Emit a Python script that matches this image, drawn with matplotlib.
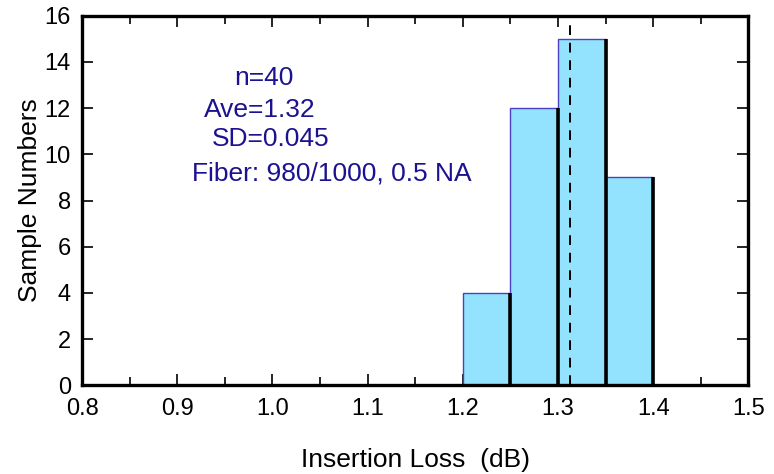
import numpy as np
import matplotlib.pyplot as plt
from matplotlib.ticker import MultipleLocator, FixedLocator, FormatStrFormatter

plt.rcParams['font.family'] = ['Liberation Sans', 'DejaVu Sans']

# histogram data
bin_left = [1.20, 1.25, 1.30, 1.35]
counts = [4, 12, 15, 9]
bin_width = 0.05
mean_line = 1.313

notes = ['n=40', 'Ave=1.32', 'SD=0.045', 'Fiber: 980/1000, 0.5 NA']
note_x = [0.960, 0.928, 0.936, 0.915]
note_y = [13.01, 11.62, 10.36, 8.85]

fill = '#94e3fe'
navy = '#1c1290'

fig, ax = plt.subplots(figsize=(7.74, 4.74), dpi=100)
fig.subplots_adjust(left=0.106, right=0.967, top=0.967, bottom=0.187)

ax.bar(bin_left, counts, width=bin_width, align='edge', color=fill,
       edgecolor='#4a40c8', linewidth=1.0, zorder=2)
rights = np.array(bin_left) + bin_width
ax.vlines(rights, 0, counts, color='black', linewidth=2.6, zorder=3)
ax.axvline(mean_line, color='black', linestyle=(0, (5, 4)), linewidth=1.4, zorder=4)

for t, x, y in zip(notes, note_x, note_y):
    ax.text(x, y, t, color=navy, fontsize=19, ha='left', va='baseline')

ax.set_xlim(0.8, 1.5)
ax.set_ylim(0, 16)
ax.xaxis.set_major_locator(MultipleLocator(0.1))
ax.xaxis.set_minor_locator(MultipleLocator(0.05))
ax.xaxis.set_major_formatter(FormatStrFormatter('%.1f'))
ax.yaxis.set_major_locator(MultipleLocator(2))
ax.yaxis.set_minor_locator(FixedLocator([10]))

ax.tick_params(axis='x', which='major', direction='in', length=8, width=1.2,
               top=True, labelsize=17, pad=9)
ax.tick_params(axis='x', which='minor', direction='in', length=6, width=1.2, top=True)
ax.tick_params(axis='y', which='major', direction='in', length=8, width=1.2,
               right=True, labelsize=17, pad=8)
ax.tick_params(axis='y', which='minor', direction='in', length=22, width=1.2, right=True)
for s in ax.spines.values():
    s.set_linewidth(2.4)
    s.set_zorder(5)

ax.set_xlabel('Insertion Loss  (dB)', fontsize=19, labelpad=20)
ax.set_ylabel('Sample Numbers', fontsize=19, labelpad=2)

fig.savefig('out.png', dpi=100)
